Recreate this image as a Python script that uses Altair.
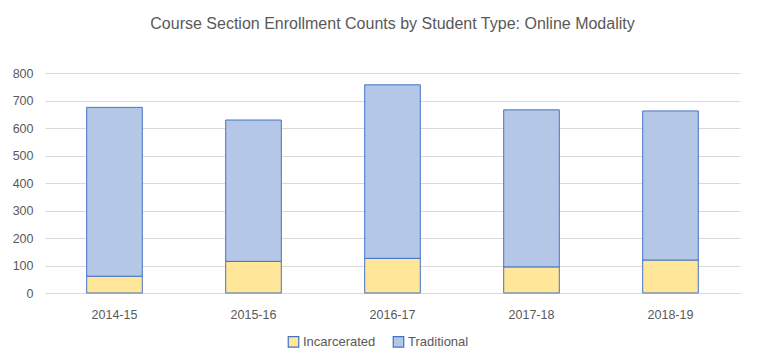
import altair as alt
import pandas as pd

years = ["2014-15", "2015-16", "2016-17", "2017-18", "2018-19"]
incarcerated = [61, 115, 126, 95, 120]
traditional = [614, 514, 631, 571, 542]
series = ["Incarcerated", "Traditional"]
colors = ["#FFE699", "#B4C7E7"]

rows = []
for y, a, b in zip(years, incarcerated, traditional):
    rows.append({"year": y, "type": "Incarcerated", "value": a, "ord": 0})
    rows.append({"year": y, "type": "Traditional", "value": b, "ord": 1})
df = pd.DataFrame(rows)

font = "Liberation Sans"
grey = "#595959"

chart = alt.Chart(df).mark_bar(stroke="#4472C4", strokeWidth=1).encode(
    x=alt.X("year:N", sort=years, title=None,
            scale=alt.Scale(paddingInner=0.6, paddingOuter=0.3),
            axis=alt.Axis(labelAngle=0, labelColor=grey, labelFontSize=12.5, labelFont=font,
                          domainColor="#D9D9D9", ticks=False, grid=False, labelPadding=15)),
    y=alt.Y("value:Q", stack="zero", title=None,
            scale=alt.Scale(domain=[0, 800]),
            axis=alt.Axis(values=[0, 100, 200, 300, 400, 500, 600, 700, 800],
                          labelColor=grey, labelFontSize=12.5, labelFont=font,
                          domain=False, ticks=False, gridColor="#D9D9D9", labelPadding=12)),
    color=alt.Color("type:N", scale=alt.Scale(domain=series, range=colors),
                    legend=alt.Legend(title=None, orient="none", direction="horizontal",
                                      legendX=242, legendY=262, symbolType="square",
                                      symbolStrokeColor="#4472C4", symbolStrokeWidth=1.2,
                                      symbolSize=110, labelFont=font, labelFontSize=13,
                                      labelColor=grey, columnPadding=14, labelOffset=3)),
    order=alt.Order("ord:Q", sort="ascending"),
).properties(
    width=695, height=220,
    autosize=alt.AutoSizeParams(type="none"),
    padding={"left": 37, "top": 65, "right": 9, "bottom": 63},
    title=alt.TitleParams("Course Section Enrollment Counts by Student Type: Online Modality",
                          font=font, fontSize=16, fontWeight="normal", color=grey,
                          anchor="middle", offset=35),
).configure(background="white").configure_view(stroke=None)

chart.save("out.html", embed_options={"renderer": "svg", "actions": False})
